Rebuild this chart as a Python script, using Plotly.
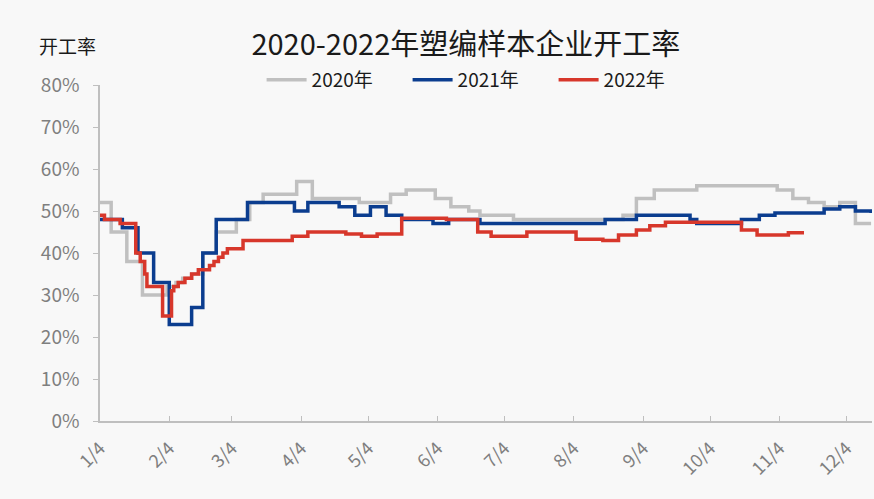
import plotly.graph_objects as go

# Step change points (month-day, operating rate %) for each year, plotted on a shared calendar
dates_2020 = ["01-04", "01-09", "01-16", "01-23", "02-03", "02-07", "02-10", "02-14", "02-19",
              "02-25", "03-06", "03-12", "03-18", "04-02", "04-09", "04-30", "05-14", "05-21",
              "06-03", "06-10", "06-18", "06-23", "07-08", "08-26", "09-01", "09-09", "09-28",
              "11-03", "11-10", "11-17", "11-24", "12-01", "12-08", "12-15"]
rate_2020 = [52, 45, 38, 30, 32, 33, 34, 35, 40,
             45, 48, 52, 54, 57, 53, 52, 54, 55,
             53, 51, 50, 49, 48, 49, 53, 55, 56,
             55, 53, 52, 51, 52, 47, 47]

dates_2021 = ["01-04", "01-14", "01-21", "01-28", "02-04", "02-14", "02-19", "02-25", "03-11",
              "04-01", "04-07", "04-21", "04-28", "05-05", "05-12", "05-19", "06-02", "06-09",
              "06-23", "08-18", "09-01", "09-25", "09-28", "10-18", "10-26", "11-02", "11-24",
              "12-01", "12-08", "12-15"]
rate_2021 = [48, 46, 40, 33, 23, 27, 40, 48, 52,
             50, 52, 51, 49, 51, 49, 48, 47, 48,
             47, 48, 49, 48, 47, 48, 49, 49.5, 50.5,
             51, 50, 49.5]

dates_2022 = ["01-04", "01-06", "01-13", "01-20", "01-22", "01-24", "01-25", "02-01", "02-05",
              "02-06", "02-08", "02-11", "02-14", "02-17", "02-22", "02-24", "02-26", "02-28",
              "03-02", "03-09", "03-31", "04-07", "04-24", "05-01", "05-08", "05-19", "06-08",
              "06-22", "06-28", "07-14", "08-05", "08-17", "08-24", "09-01", "09-07", "09-14",
              "10-18", "10-25", "11-08", "11-15"]
rate_2022 = [49, 48, 47, 40, 38, 35, 32, 25, 31,
             32, 33, 34, 35, 36, 37, 38, 39, 40,
             41, 43, 44, 45, 44.5, 44, 44.5, 48.3, 48,
             45, 44, 45, 43.3, 43, 44.3, 45.5, 46.5, 47.3,
             45.5, 44.3, 44.8, 44.8]

tick_months = list(range(1, 13))
tick_labels = [f"{m}/4" for m in tick_months]

BASE_YEAR = "2021"  # common calendar for overlaying years


def on_calendar(md_list):
    return [f"{BASE_YEAR}-{md}" for md in md_list]


series = [
    ("2020年", dates_2020, rate_2020, "#c0c0c0"),
    ("2021年", dates_2021, rate_2021, "#0b3d8f"),
    ("2022年", dates_2022, rate_2022, "#d7372b"),
]

fig = go.Figure()
for name, d, v, color in series:
    fig.add_trace(go.Scatter(
        x=on_calendar(d), y=v, name=name, mode="lines",
        line=dict(color=color, width=3.5, shape="hv"),
    ))

axis_gray = "#bfbfbf"
label_gray = "#7f7f7f"
font_family = "Noto Sans CJK SC, Noto Sans, sans-serif"

fig.update_layout(
    width=874, height=499,
    margin=dict(l=100, r=2, t=85, b=78),
    paper_bgcolor="#f8f8f8",
    plot_bgcolor="#f8f8f8",
    font=dict(family=font_family),
    title=dict(
        text="2020-2022年塑编样本企业开工率",
        x=0.533, xanchor="center", y=0.91, yanchor="middle",
        font=dict(size=29, color="#1a1a1a", family=font_family),
    ),
    legend=dict(
        orientation="h", x=0.493, xanchor="center", y=1.015, yanchor="middle",
        font=dict(size=19, color="#1a1a1a"),
        bgcolor="rgba(0,0,0,0)", itemwidth=40, entrywidth=91,
    ),
    showlegend=True,
)

fig.update_xaxes(
    type="date",
    range=[f"{BASE_YEAR}-01-04", f"{BASE_YEAR}-12-15 10:00"],
    tickvals=on_calendar([f"{m:02d}-04" for m in tick_months]),
    ticktext=tick_labels,
    tickangle=-45,
    showgrid=False, zeroline=False,
    showline=True, linecolor=axis_gray, linewidth=1.5,
    ticks="inside", ticklen=5, tickcolor=axis_gray, tickwidth=1,
    ticklabelstandoff=8,
    tickfont=dict(size=18, color=label_gray),
)

fig.update_yaxes(
    range=[0, 80], dtick=10, ticksuffix="%",
    showgrid=False, zeroline=False,
    showline=True, linecolor=axis_gray, linewidth=1.5,
    ticks="outside", ticklen=5, tickcolor=axis_gray, tickwidth=1,
    ticklabelstandoff=10,
    tickfont=dict(size=19, color=label_gray),
)

fig.add_annotation(
    text="开工率", xref="paper", yref="paper",
    x=-0.082, y=1.119, xanchor="left", yanchor="middle",
    showarrow=False, font=dict(size=19, color="#1a1a1a"),
)

fig.write_html("out.html")
